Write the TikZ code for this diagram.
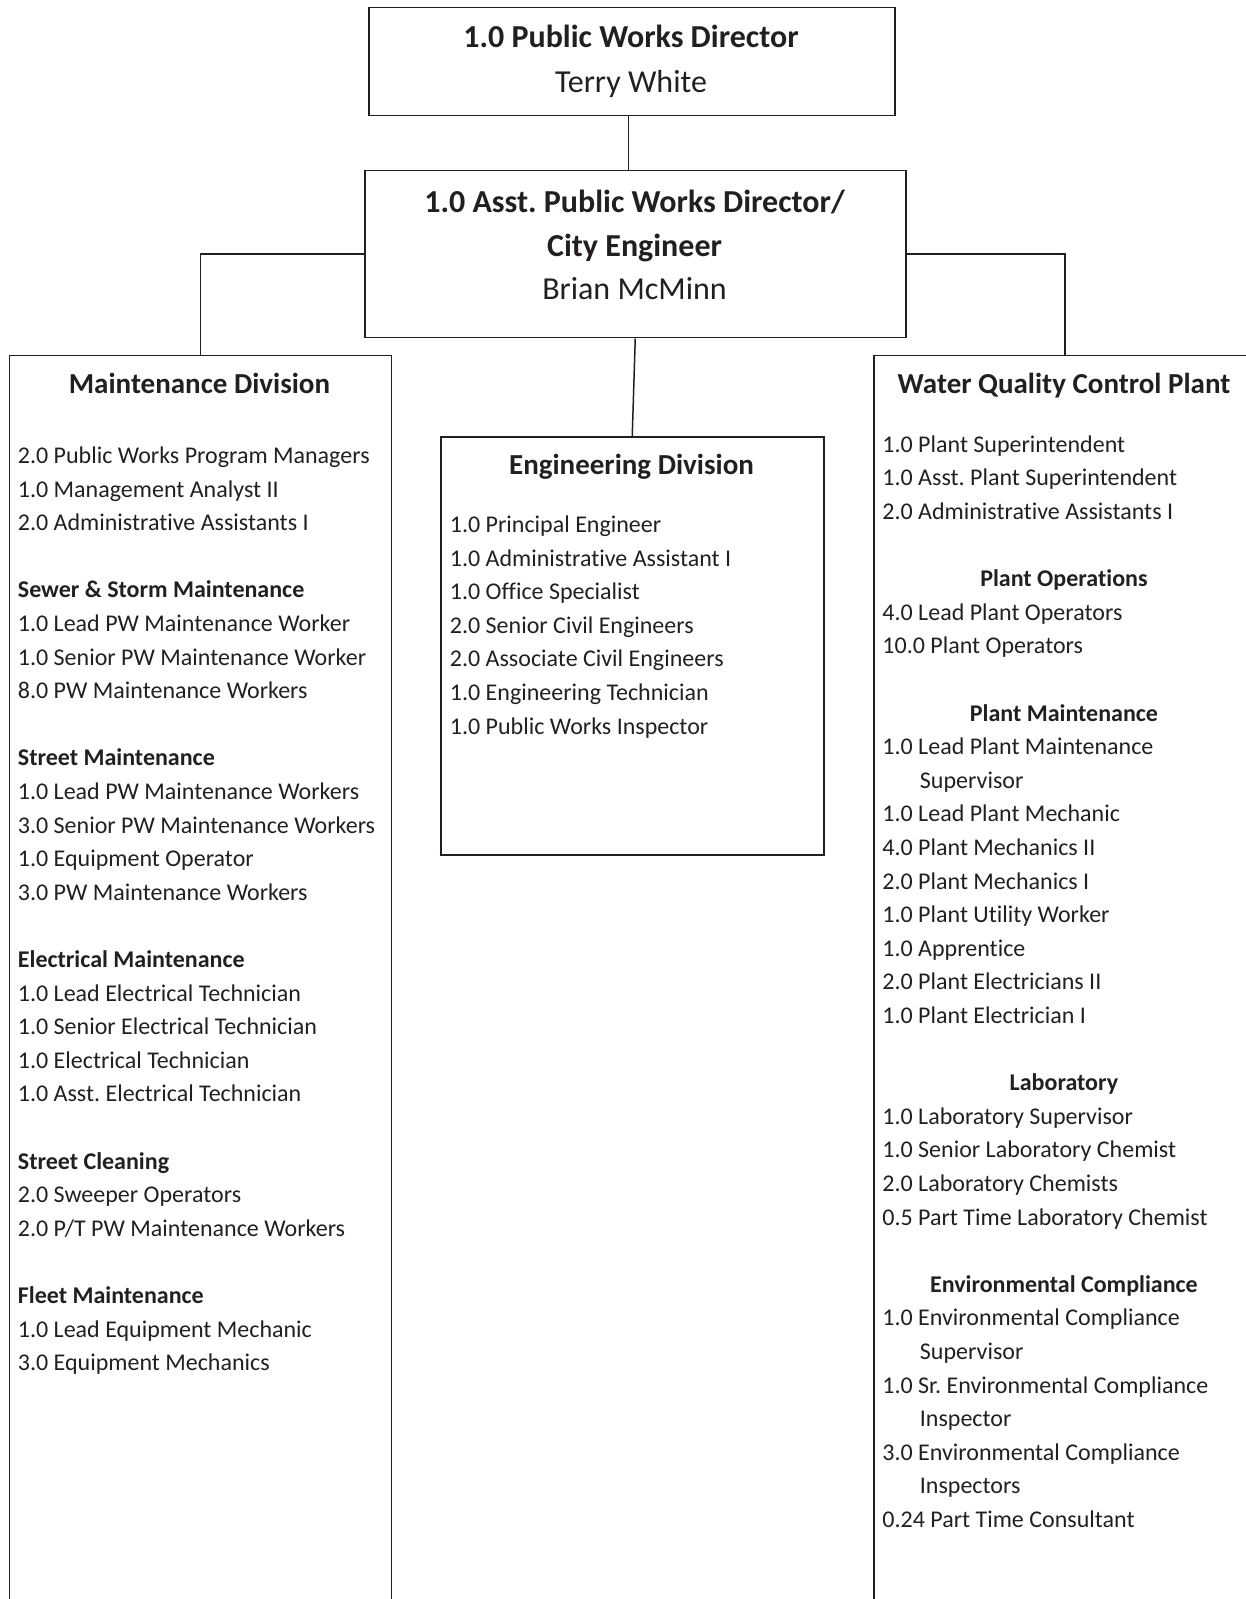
\documentclass[tikz,border=0pt]{standalone}
\usepackage{fontspec}
\setmainfont[Ligatures=NoCommon]{Carlito}
\frenchspacing
\definecolor{ink}{RGB}{35,31,32}
\tikzset{
  box/.style={draw=ink, line width=0.75pt, inner sep=0pt, anchor=north west},
  conn/.style={draw=ink, line width=0.75pt},
  toptitle/.style={anchor=base, inner sep=0pt, text=ink, font=\fontsize{16}{19}\selectfont\bfseries},
  person/.style={anchor=base, inner sep=0pt, text=ink, font=\fontsize{16}{19}\selectfont},
  divhead/.style={anchor=base, inner sep=0pt, text=ink, font=\fontsize{14.5}{17}\selectfont\bfseries},
  entry/.style={anchor=base west, inner sep=0pt, text=ink, font=\fontsize{12}{14}\selectfont},
}
\newcommand{\subhead}[1]{\textbf{#1}}
\newcommand{\midhead}[1]{\hspace*{90.75pt}\makebox[0pt]{\bfseries #1}}
\newcommand{\wrapline}[1]{\hspace*{18.75pt}#1}
\begin{document}
\begin{tikzpicture}[x=0.5pt,y=-0.5pt]
    \useasboundingbox (0,0) rectangle (1246,1599);
    \clip (0,0) rectangle (1246,1599);

    % Director and assistant director
    \node[box, minimum width=263pt, minimum height=54pt] (dir) at (368,7) {};
    \node[toptitle] (dir-title) at (631,48) {1.0 Public Works Director};
    \node[person] (dir-name) at (631,93) {Terry White};

    \node[box, minimum width=270.5pt, minimum height=83.5pt] (asst) at (364,170) {};
    \node[toptitle] (asst-title) at (634.5,212.5) {1.0 Asst. Public Works Director/};
    \node[toptitle] (asst-title2) at (634.5,256.5) {City Engineer};
    \node[person] (asst-name) at (634.5,300) {Brian McMinn};

    % Division boxes (left and right run off the page)
    \node[box, minimum width=191pt, minimum height=650pt] (maint) at (8.5,355) {};
    \node[box, minimum width=191.5pt, minimum height=209pt] (eng) at (440,436) {};
    \node[box, minimum width=191pt, minimum height=650pt] (wqcp) at (873,355) {};

    % Connectors
    \draw[conn] ([xshift=-1.75pt]dir.south) -- ([xshift=-1.75pt]dir.south |- asst.north);
    \draw[conn] (asst.west) -| (maint.north);
    \draw[conn] (asst.east) -| (wqcp.north);
    \draw[conn] (asst.south) -- (eng.north);

    % Maintenance Division
    \node[divhead] (maint-head) at (199.5,393.5) {Maintenance Division};
    \foreach \t [count=\i from 0] in {
        2.0 Public Works Program Managers, 1.0 Management Analyst II,
        2.0 Administrative Assistants I, {},
        \subhead{Sewer \& Storm Maintenance}, 1.0 Lead PW Maintenance Worker,
        1.0 Senior PW Maintenance Worker, 8.0 PW Maintenance Workers, {},
        \subhead{Street Maintenance}, 1.0 Lead PW Maintenance Workers,
        3.0 Senior PW Maintenance Workers, 1.0 Equipment Operator,
        3.0 PW Maintenance Workers, {},
        \subhead{Electrical Maintenance}, 1.0 Lead Electrical Technician,
        1.0 Senior Electrical Technician, 1.0 Electrical Technician,
        1.0 Asst. Electrical Technician, {},
        \subhead{Street Cleaning}, 2.0 Sweeper Operators,
        2.0 P/T PW Maintenance Workers, {},
        \subhead{Fleet Maintenance}, 1.0 Lead Equipment Mechanic,
        3.0 Equipment Mechanics}
        \node[entry] (maint-\i) at (17.5,463.5+33.6*\i) {\t};

    % Engineering Division
    \node[divhead] (eng-head) at (631.5,474.5) {Engineering Division};
    \foreach \t [count=\i from 0] in {
        1.0 Principal Engineer, 1.0 Administrative Assistant I,
        1.0 Office Specialist, 2.0 Senior Civil Engineers,
        2.0 Associate Civil Engineers, 1.0 Engineering Technician,
        1.0 Public Works Inspector}
        \node[entry] (eng-\i) at (449.5,532.5+33.6*\i) {\t};

    % Water Quality Control Plant
    \node[divhead] (wqcp-head) at (1064,393.5) {Water Quality Control Plant};
    \foreach \t [count=\i from 0] in {
        1.0 Plant Superintendent, 1.0 Asst. Plant Superintendent,
        2.0 Administrative Assistants I, {},
        \midhead{Plant Operations}, 4.0 Lead Plant Operators,
        10.0 Plant Operators, {},
        \midhead{Plant Maintenance}, 1.0 Lead Plant Maintenance,
        \wrapline{Supervisor}, 1.0 Lead Plant Mechanic,
        4.0 Plant Mechanics II, 2.0 Plant Mechanics I,
        1.0 Plant Utility Worker, 1.0 Apprentice,
        2.0 Plant Electricians II, 1.0 Plant Electrician I, {},
        \midhead{Laboratory}, 1.0 Laboratory Supervisor,
        1.0 Senior Laboratory Chemist, 2.0 Laboratory Chemists,
        0.5 Part Time Laboratory Chemist, {},
        \midhead{Environmental Compliance}, 1.0 Environmental Compliance,
        \wrapline{Supervisor}, 1.0 Sr. Environmental Compliance,
        \wrapline{Inspector}, 3.0 Environmental Compliance,
        \wrapline{Inspectors}, 0.24 Part Time Consultant}
        \node[entry] (wqcp-\i) at (882,452.3+33.6*\i) {\t};
\end{tikzpicture}
\end{document}
